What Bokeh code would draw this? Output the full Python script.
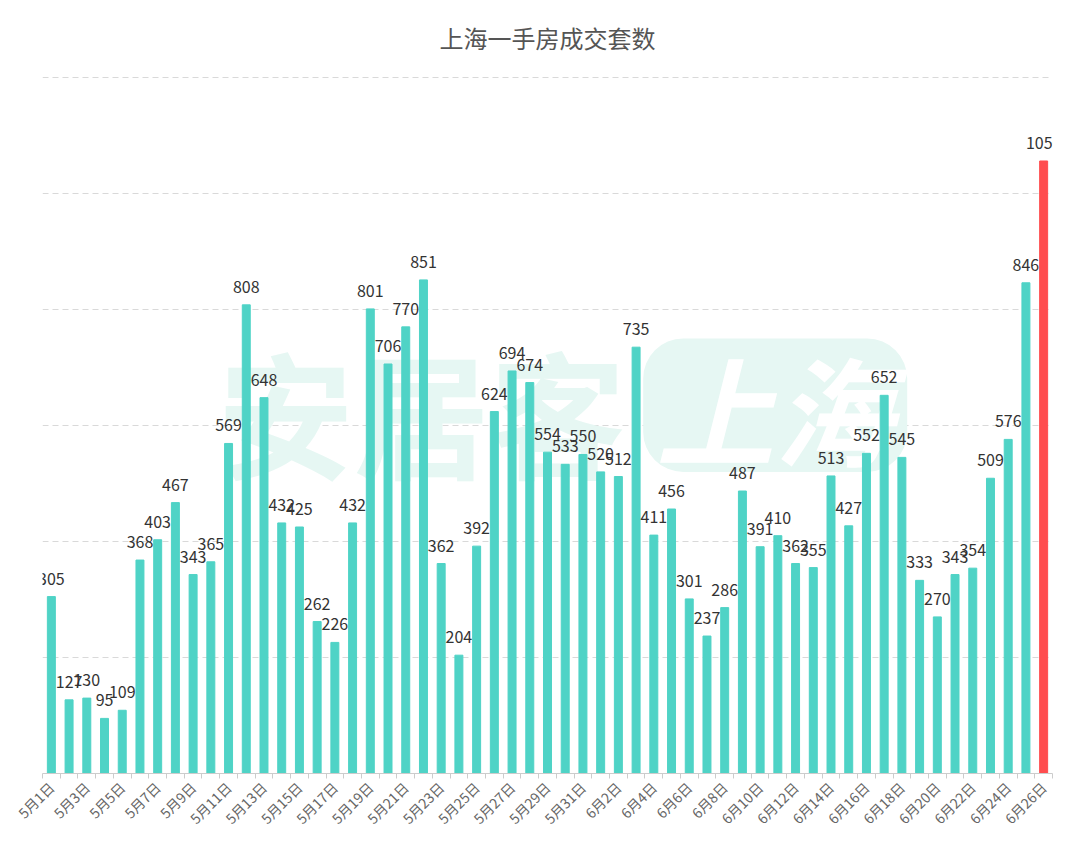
import math
from bokeh.plotting import figure
from bokeh.models import ColumnDataSource, FixedTicker, Label, Range1d, BoxAnnotation
from bokeh.core.properties import value
from bokeh.embed import file_html
from bokeh.resources import INLINE

title_text = "上海一手房成交套数"
may_values = [305, 127, 130, 95, 109, 368, 403, 467, 343, 365, 569, 808, 648, 432, 425,
              262, 226, 432, 801, 706, 770, 851, 362, 204, 392, 624, 694, 674, 554, 533, 550]
june_values = [520, 512, 735, 411, 456, 301, 237, 286, 487, 391, 410, 362, 355, 513, 427,
               552, 652, 545, 333, 270, 343, 354, 509, 576, 846, 1056]
dates = [f"5月{d}日" for d in range(1, 32)] + [f"6月{d}日" for d in range(1, 27)]
counts = may_values + june_values
y_ticks = [0, 200, 400, 600, 800, 1000, 1200]

TEAL = "#4fd3c6"
RED = "#ff4d4f"
FONT = "Noto Sans CJK SC"

n = len(counts)
xs = list(range(n))
colors = [TEAL] * (n - 1) + [RED]
src = ColumnDataSource(dict(x=xs, y=counts, c=colors, lab=[str(v) for v in counts]))

p = figure(width=1072, height=842, output_backend="svg", toolbar_location=None,
           x_range=Range1d(-0.5, n - 0.5), y_range=Range1d(0, 1212),
           min_border_left=42, min_border_right=20, min_border_top=70, min_border_bottom=69)
p.outline_line_color = None
p.background_fill_color = "white"
p.border_fill_color = "white"

p.title.text = title_text
p.title.align = "center"
p.title.text_font = FONT
p.title.text_font_size = "24px"
p.title.text_font_style = "normal"
p.title.text_color = "#555555"
p.title.standoff = 32

# watermark
p.add_layout(BoxAnnotation(left=33.4, right=48.3, bottom=520, top=750,
                           fill_color="#e6f7f3", fill_alpha=1.0, line_color=None,
                           border_radius=40, level="underlay"))
p.add_layout(Label(x=20.9, y=627, text="安居客", text_font=FONT, text_font_size="136px",
                   text_font_style="bold", text_color="#e6f7f3", text_align="center",
                   text_baseline="middle", level="underlay"))
p.add_layout(Label(x=40.8, y=632, text="上海", text_font=FONT, text_font_size="118px",
                   text_font_style="bold italic", text_color="white", text_align="center",
                   text_baseline="middle", level="underlay"))

p.vbar(x="x", top="y", width=0.45, color="c", source=src)
p.text(x="x", y="y", text="lab", source=src, text_align="center", text_baseline="bottom",
       y_offset=-12, text_font=value(FONT), text_font_size="16px", text_color="#333333")

p.xgrid.visible = False
p.ygrid.ticker = FixedTicker(ticks=y_ticks)
p.ygrid.grid_line_color = "#d9d9d9"
p.ygrid.grid_line_dash = "6 4"
p.ygrid.grid_line_width = 1
p.yaxis.visible = False

ax = p.xaxis[0]
ax.ticker = FixedTicker(ticks=list(range(0, n, 2)), minor_ticks=[i - 0.5 for i in range(n + 1)])
ax.major_label_overrides = {i: dates[i] for i in range(0, n, 2)}
ax.major_label_orientation = math.pi / 4
ax.major_label_text_font = FONT
ax.major_label_text_font_size = "14px"
ax.major_label_text_color = "#666666"
ax.major_tick_line_color = None
ax.major_tick_out = 0
ax.minor_tick_line_color = "#cccccc"
ax.minor_tick_out = 5
ax.minor_tick_in = 0
ax.axis_line_color = "#cccccc"
ax.major_label_standoff = 6

open("out.html", "w").write(file_html(p, INLINE))
